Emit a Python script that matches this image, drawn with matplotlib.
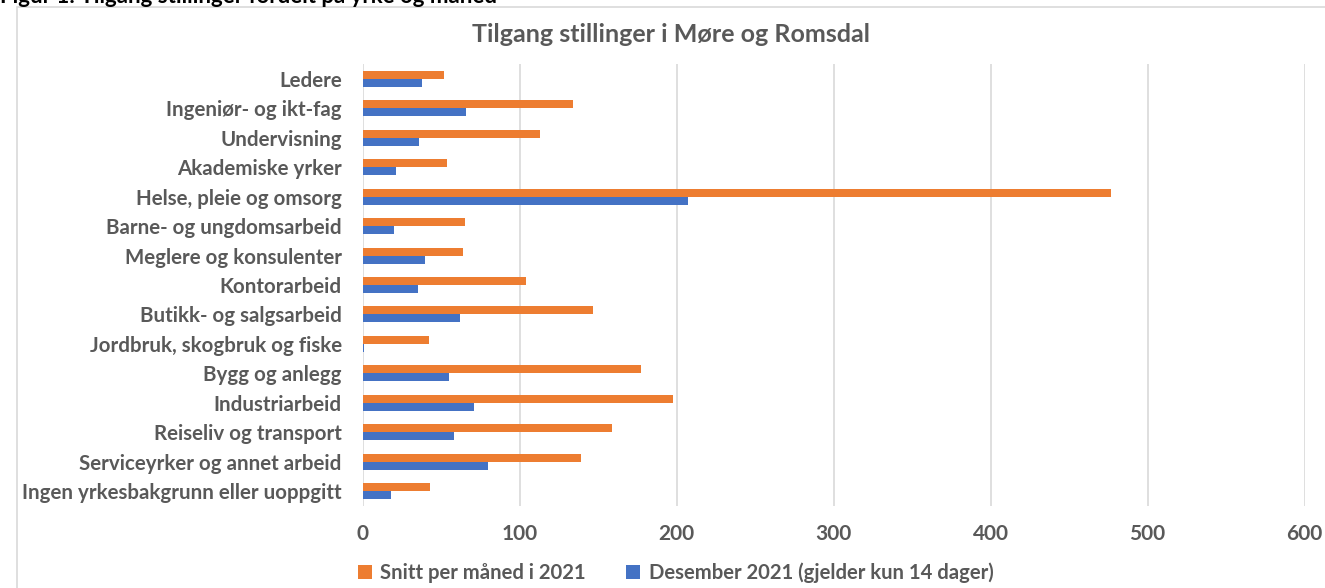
import matplotlib
matplotlib.use("Agg")
import matplotlib.pyplot as plt
import numpy as np
from matplotlib.patches import Rectangle

categories = [
    "Ledere",
    "Ingeniør- og ikt-fag",
    "Undervisning",
    "Akademiske yrker",
    "Helse, pleie og omsorg",
    "Barne- og ungdomsarbeid",
    "Meglere og konsulenter",
    "Kontorarbeid",
    "Butikk- og salgsarbeid",
    "Jordbruk, skogbruk og fiske",
    "Bygg og anlegg",
    "Industriarbeid",
    "Reiseliv og transport",
    "Serviceyrker og annet arbeid",
    "Ingen yrkesbakgrunn eller uoppgitt",
]
snitt_2021 = [52, 134, 113, 54, 477, 65, 64, 104, 147, 42, 177, 198, 159, 139, 43]
desember_2021 = [38, 66, 36, 21, 207, 20, 40, 35, 62, 1, 55, 71, 58, 80, 18]
series_labels = ["Snitt per måned i 2021", "Desember 2021 (gjelder kun 14 dager)"]
x_ticks = [0, 100, 200, 300, 400, 500, 600]

ORANGE = "#ED7D31"
BLUE = "#4472C4"
TEXT = "#595959"
GRID = "#D9D9D9"

plt.rcParams["font.family"] = ["Lato", "DejaVu Sans"]

W, H = 1325, 588
fig = plt.figure(figsize=(W / 100, H / 100), dpi=100)
ax = fig.add_axes([362.7 / W, 1 - 505.7 / H, (1304.5 - 362.7) / W, (505.7 - 64.3) / H])

y = np.arange(len(categories))
h = 0.27
ax.barh(y - h / 2, snitt_2021, height=h, color=ORANGE, label=series_labels[0], zorder=3)
ax.barh(y + h / 2, desember_2021, height=h, color=BLUE, label=series_labels[1], zorder=3)

ax.set_ylim(len(categories) - 0.5, -0.5)
ax.set_xlim(0, 600)
ax.set_yticks(y)
ax.set_yticklabels(categories, fontsize=14.8, fontweight="bold", color=TEXT)
ax.set_xticks(x_ticks)
ax.set_xticklabels([str(t) for t in x_ticks], fontsize=15, fontweight="bold", color=TEXT)
ax.tick_params(axis="y", length=0, pad=15)
ax.tick_params(axis="x", length=0, pad=13)
ax.grid(axis="x", color=GRID, linewidth=1.2, zorder=0)
for s in ax.spines.values():
    s.set_visible(False)

fig.text(671 / W, 1 - 35 / H, "Tilgang stillinger i Møre og Romsdal", ha="center", va="center",
         fontsize=18, fontweight="bold", color=TEXT)

# caption above the chart, cut off at the top edge as in the source
fig.text(0, 1 - 3 / H, "Figur 1: Tilgang stillinger fordelt på yrke og måned", ha="left",
         va="baseline", fontsize=16, fontweight="bold", color="black")

# chart frame
fig.patches.append(Rectangle((17 / W, -0.05), 1.1, 1 - 7 / H + 0.05, transform=fig.transFigure,
                             fill=False, edgecolor=GRID, linewidth=1.2))

fig.legend(loc="center", bbox_to_anchor=(675.5 / W, 1 - 573 / H), ncol=2, frameon=False,
           prop={"size": 14.6, "weight": "bold"}, labelcolor=TEXT, handlelength=0.7,
           handleheight=0.7, handletextpad=0.4, columnspacing=2.0)

fig.savefig("out.png", dpi=100)
